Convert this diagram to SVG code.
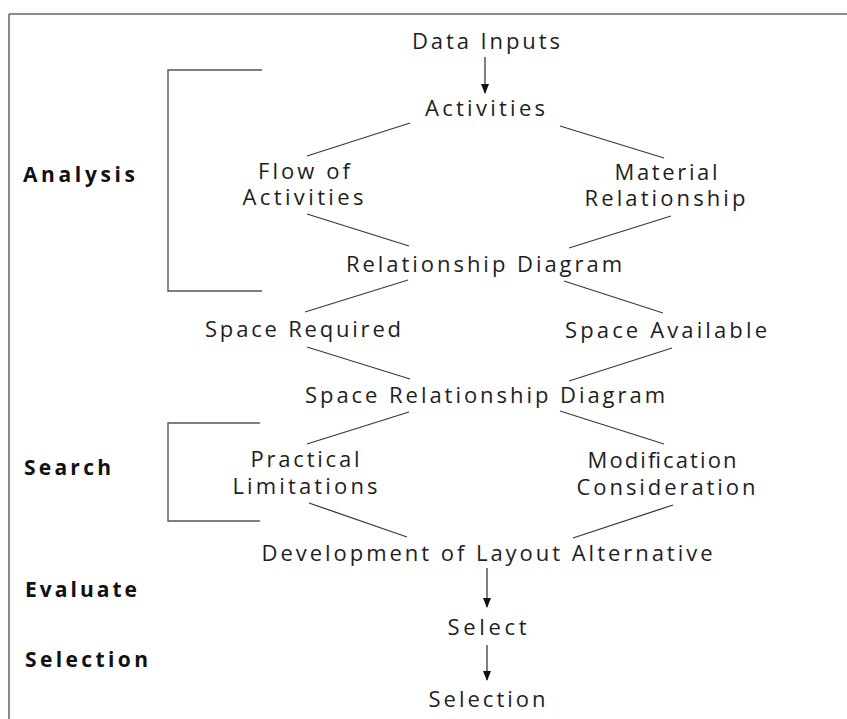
<svg xmlns="http://www.w3.org/2000/svg" width="847" height="719" viewBox="0 0 847 719">
<style>
.t{font-family:"Open Sans","DejaVu Sans",sans-serif;font-size:22px;fill:#1e1e1e;text-anchor:middle}
.lab{font-family:"Open Sans","DejaVu Sans",sans-serif;font-size:21px;font-weight:bold;fill:#111}
.c{stroke:#3a3a3a;stroke-width:1.3;fill:none}
.frame{stroke:#666;stroke-width:1.5;fill:none}
.br{stroke:#555;stroke-width:1.4;fill:none}
</style>
<defs>
<marker id="ah" markerWidth="10" markerHeight="10" refX="9" refY="5" orient="auto" markerUnits="userSpaceOnUse">
<path d="M0,1 L10,5 L0,9 z" fill="#111"/>
</marker>
</defs>
<rect width="847" height="719" fill="#fff"/>
<g id="frame">
<path class="frame" d="M9,14 L847,14 M9,14 L9,719"/>
</g>
<g id="labels">
<text class="lab" x="23" y="182" textLength="112" lengthAdjust="spacing">Analysis</text>
<text class="lab" x="24" y="475" textLength="87" lengthAdjust="spacing">Search</text>
<text class="lab" x="25" y="597" textLength="112" lengthAdjust="spacing">Evaluate</text>
<text class="lab" x="25" y="667" textLength="123" lengthAdjust="spacing">Selection</text>
</g>
<g id="brackets">
<path class="br" d="M262,70 L168,70 L168,291 L262,291"/>
<path class="br" d="M260,423 L168,423 L168,521 L260,521"/>
</g>
<g id="connectors">
<line class="c" x1="485" y1="57" x2="485" y2="93" marker-end="url(#ah)"/>
<line class="c" x1="410" y1="123" x2="307" y2="156"/>
<line class="c" x1="560" y1="126" x2="664" y2="158"/>
<line class="c" x1="307" y1="214" x2="409" y2="246"/>
<line class="c" x1="671" y1="216" x2="569" y2="248"/>
<line class="c" x1="408" y1="280" x2="305" y2="312"/>
<line class="c" x1="564" y1="281" x2="663" y2="313"/>
<line class="c" x1="307" y1="347" x2="410" y2="379"/>
<line class="c" x1="672" y1="348" x2="569" y2="381"/>
<line class="c" x1="409" y1="412" x2="307" y2="444"/>
<line class="c" x1="560" y1="411" x2="664" y2="444"/>
<line class="c" x1="309" y1="503" x2="407" y2="537"/>
<line class="c" x1="673" y1="505" x2="573" y2="538"/>
<line class="c" x1="487" y1="568" x2="487" y2="607" marker-end="url(#ah)"/>
<line class="c" x1="487" y1="645" x2="487" y2="680" marker-end="url(#ah)"/>
</g>
<g id="n-data-inputs"><text class="t" x="486" y="49" textLength="148" lengthAdjust="spacing">Data Inputs</text></g>
<g id="n-activities"><text class="t" x="485" y="116" textLength="120" lengthAdjust="spacing">Activities</text></g>
<g id="n-flow"><text class="t" x="304" y="179" textLength="92" lengthAdjust="spacing">Flow of</text><text class="t" x="303" y="205" textLength="121" lengthAdjust="spacing">Activities</text></g>
<g id="n-material"><text class="t" x="666" y="180" textLength="103" lengthAdjust="spacing">Material</text><text class="t" x="665" y="206" textLength="161" lengthAdjust="spacing">Relationship</text></g>
<g id="n-rel-diagram"><text class="t" x="484" y="272" textLength="276" lengthAdjust="spacing">Relationship Diagram</text></g>
<g id="n-space-req"><text class="t" x="303" y="337" textLength="196" lengthAdjust="spacing">Space Required</text></g>
<g id="n-space-avail"><text class="t" x="666" y="338" textLength="202" lengthAdjust="spacing">Space Available</text></g>
<g id="n-space-rel"><text class="t" x="485" y="403" textLength="360" lengthAdjust="spacing">Space Relationship Diagram</text></g>
<g id="n-practical"><text class="t" x="305" y="467" textLength="109" lengthAdjust="spacing">Practical</text><text class="t" x="305" y="494" textLength="145" lengthAdjust="spacing">Limitations</text></g>
<g id="n-modification"><text class="t" x="662" y="468" textLength="149" lengthAdjust="spacing">Modification</text><text class="t" x="666" y="495" textLength="179" lengthAdjust="spacing">Consideration</text></g>
<g id="n-development"><text class="t" x="487" y="561" textLength="451" lengthAdjust="spacing">Development of Layout Alternative</text></g>
<g id="n-select"><text class="t" x="487" y="635" textLength="79" lengthAdjust="spacing">Select</text></g>
<g id="n-selection"><text class="t" x="487" y="707" textLength="117" lengthAdjust="spacing">Selection</text></g>
</svg>
